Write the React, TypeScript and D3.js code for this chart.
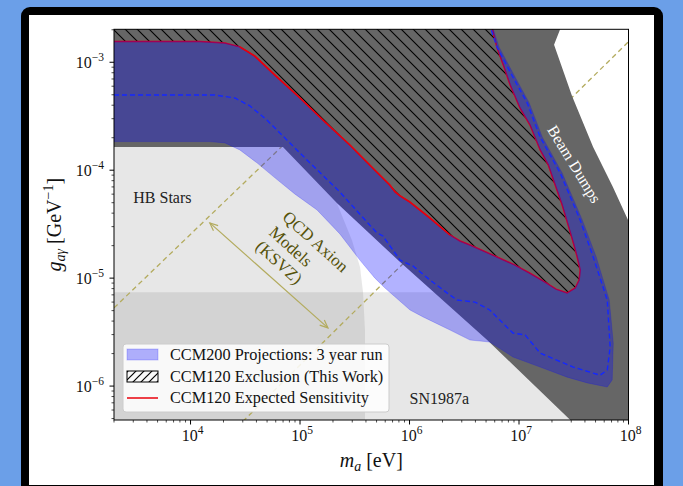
import * as d3 from "d3";
import { useEffect, useRef } from "react";

type Pt = [number, number]; // [m_a in eV, g_a-gamma in GeV^-1]

const xDomain: [number, number] = [2e3, 1e8];
const yDomain: [number, number] = [4.85e-7, 2.02e-3];

// Beam dump exclusion (dark grey)
const beamDumps: Pt[] = [
  [1e3, 1e-2], [2.38e7, 1e-2], [2.38e7, 2.03e-3], [2.09e7, 1.45e-3], [3.05e7, 4.87e-4],
  [4.75e7, 1.64e-4], [7.2e7, 6.98e-5], [9.9e7, 3.45e-5], [2e8, 1.5e-5], [2e8, 1e-7],
  [4.5e7, 3.2e-7], [5.12e6, 2.67e-6], [8.2e5, 1.41e-5], [2.17e5, 4.97e-5],
  [6.98e4, 1.64e-4], [1e3, 1.64e-4],
];

// Horizontal branch stars
const hbStars: Pt[] = [
  [1e3, 1.64e-4], [6.98e4, 1.64e-4], [2.17e5, 4.97e-5], [2.98e5, 2.25e-5],
  [3.53e5, 1.27e-5], [3.76e5, 7.4e-6], [3.92e5, 3.3e-6], [3.92e5, 1e-7], [1e3, 1e-7],
];

// SN1987a
const sn1987a: Pt[] = [[1e3, 7.4e-6], [2e8, 7.4e-6], [2e8, 1e-7], [1e3, 1e-7]];

// CCM120 exclusion boundary / expected sensitivity (red)
const ccm120: Pt[] = [
  [2.0e3, 1.56e-3], [1.22e4, 1.56e-3], [2.06e4, 1.51e-3], [2.82e4, 1.39e-3],
  [3.87e4, 1.14e-3], [5.9e4, 7.6e-4], [1.0e5, 4.67e-4], [1.69e5, 2.8e-4],
  [2.85e5, 1.71e-4], [4.83e5, 1.0e-4], [6.6e5, 7.3e-5], [7.4e5, 6.3e-5],
  [8.2e5, 5.77e-5], [1.01e6, 5.07e-5], [1.54e6, 3.6e-5], [2.34e6, 2.51e-5],
  [2.89e6, 2.21e-5], [3.57e6, 2.03e-5], [6.3e6, 1.57e-5], [9.2e6, 1.32e-5],
  [1.26e7, 1.11e-5], [1.73e7, 9.2e-6], [2.18e7, 7.9e-6], [2.75e7, 7.3e-6],
  [3.26e7, 8.1e-6], [3.54e7, 9.6e-6], [3.62e7, 1.19e-5], [3.4e7, 1.57e-5],
  [3.12e7, 2.16e-5], [2.81e7, 3.1e-5], [2.48e7, 4.76e-5], [2.14e7, 7.3e-5],
  [1.85e7, 1.12e-4], [1.56e7, 1.54e-4], [1.26e7, 2.62e-4], [1.02e7, 3.77e-4],
  [8.3e6, 6.15e-4], [7.2e6, 9.4e-4], [6.3e6, 1.36e-3], [5.6e6, 2.2e-3],
];

// CCM200 projection, outer edge of the band
const ccm200Outer: Pt[] = [
  [2.0e3, 1.84e-4], [1.5e4, 1.84e-4], [2.06e4, 1.79e-4], [2.82e4, 1.54e-4],
  [4.04e4, 1.17e-4], [5.9e4, 8.5e-5], [9.0e4, 6.0e-5], [1.43e5, 4.28e-5],
  [2.31e5, 2.57e-5], [3.52e5, 1.47e-5], [4.83e5, 1.0e-5], [5.97e5, 8.1e-6],
  [1.01e6, 5.07e-6], [1.33e6, 4.37e-6], [2.34e6, 3.31e-6], [3.57e6, 2.67e-6],
  [5.4e6, 2.56e-6], [8.8e6, 1.86e-6], [1.56e7, 1.5e-6], [2.75e7, 1.21e-6],
  [4.2e7, 1.07e-6], [6.4e7, 9.8e-7], [7.1e7, 1.14e-6], [7.26e7, 2.5e-6],
  [6.67e7, 6.27e-6], [5.07e7, 1.57e-5], [3.78e7, 3.46e-5], [2.48e7, 9.4e-5],
  [1.63e7, 2.03e-4], [1.24e7, 4.19e-4], [9.2e6, 7.3e-4], [6.58e6, 1.38e-3],
  [5.67e6, 2.2e-3],
];

// CCM200 dashed curve
const ccm200Dashed: Pt[] = [
  [2.0e3, 4.97e-4], [1.67e4, 4.97e-4], [2.54e4, 4.67e-4], [3.48e4, 3.94e-4],
  [4.98e4, 2.92e-4], [1.0e5, 1.44e-4], [2.31e5, 6.28e-5], [5.04e5, 2.62e-5],
  [5.71e5, 2.46e-5], [8.2e5, 1.47e-5], [1.08e6, 1.29e-5], [1.54e6, 9.6e-6],
  [2.2e6, 7.3e-6], [2.72e6, 6.27e-6], [3.97e6, 6.0e-6], [5.4e6, 5.07e-6],
  [8.8e6, 3.1e-6], [1.14e7, 2.97e-6], [1.56e7, 2.02e-6], [3.13e7, 1.5e-6],
  [5.5e7, 1.26e-6], [6.4e7, 1.41e-6], [6.8e7, 2.3e-6], [6.4e7, 6.27e-6],
  [4.76e7, 1.57e-5], [3.62e7, 3.46e-5], [2.38e7, 9.4e-5], [1.56e7, 2.03e-4],
  [1.19e7, 4.19e-4], [8.8e6, 7.3e-4], [6.3e6, 1.38e-3], [5.4e6, 2.2e-3],
];

// QCD axion (KSVZ) band edges and the arrow between them
const ksvzUpper: Pt[] = [[2e3, 5.3e-6], [7e4, 1.7e-4]];
const ksvzLower: Pt[] = [[3e4, 4.7e-7], [1e8, 1.55e-3]];
const ksvzArrow: Pt[] = [[1.5e4, 3.25e-5], [1.8e5, 3.46e-6]];
const ksvzLabel = ["QCD Axion", "Models", "(KSVZ)"];
const ksvzLabelAt: Pt[] = [[7.3e4, 3.9e-5], [5.5e4, 2.82e-5], [4.15e4, 2.08e-5]];

const regionLabels: { text: string; at: Pt }[] = [
  { text: "HB Stars", at: [3.0e3, 4.97e-5] },
  { text: "SN1987a", at: [1.0e6, 6.8e-7] },
];
const beamLabel = { text: "Beam Dumps", at: [3.2e7, 1.14e-4] as Pt };

const legendLabels = [
  "CCM200 Projections: 3 year run",
  "CCM120 Exclusion (This Work)",
  "CCM120 Expected Sensitivity",
];

export default function App() {
  const ref = useRef<SVGSVGElement | null>(null);

  useEffect(() => {
    const el = ref.current;
    if (!el) return;
    const svg = d3.select(el);
    svg.selectAll("*").remove();

    const W = 683;
    const H = 486;
    const L = 114;
    const R = 628.5;
    const T = 29.3;
    const B = 420;
    const font = "'Liberation Serif', 'Times New Roman', serif";
    const olive = "#b3ab5e";
    const oliveText = "#55520a";

    const x = d3.scaleLog().domain(xDomain).range([L, R]);
    const y = d3.scaleLog().domain(yDomain).range([B, T]);
    const line = d3
      .line<Pt>()
      .x((d) => x(d[0]))
      .y((d) => y(d[1]));
    const poly = (pts: Pt[]) => (line(pts) ?? "") + "Z";

    // page + frame
    svg.append("rect").attr("width", W).attr("height", H).attr("fill", "#6b9fe8");
    svg.append("rect").attr("x", 21).attr("y", 7).attr("width", 642).attr("height", 500)
      .attr("rx", 9).attr("fill", "#000");
    svg.append("rect").attr("x", 29).attr("y", 15).attr("width", 625).attr("height", 470)
      .attr("fill", "#fff");

    const defs = svg.append("defs");
    defs.append("clipPath").attr("id", "plot-clip")
      .append("rect").attr("x", L).attr("y", T).attr("width", R - L).attr("height", B - T);
    const hatch = defs.append("pattern").attr("id", "hatch")
      .attr("patternUnits", "userSpaceOnUse").attr("width", 12).attr("height", 12);
    hatch.append("path").attr("d", "M0,0L12,12M-1,11L1,13M11,-1L13,1")
      .attr("stroke", "#000").attr("stroke-width", 1.1);
    const hatchLeg = defs.append("pattern").attr("id", "hatch-leg")
      .attr("patternUnits", "userSpaceOnUse").attr("width", 8).attr("height", 8);
    hatchLeg.append("path").attr("d", "M0,8L8,0M-1,1L1,-1M7,9L9,7")
      .attr("stroke", "#000").attr("stroke-width", 1.2);
    defs.append("marker").attr("id", "ah")
      .attr("viewBox", "-10 -6 12 12").attr("refX", 0).attr("refY", 0)
      .attr("markerWidth", 12).attr("markerHeight", 12)
      .attr("markerUnits", "userSpaceOnUse").attr("orient", "auto-start-reverse")
      .append("path").attr("d", "M-8,-3.5L0,0L-8,3.5")
      .attr("fill", "none").attr("stroke", olive).attr("stroke-width", 1.2);

    const g = svg.append("g").attr("clip-path", "url(#plot-clip)");

    // astrophysical bounds
    [hbStars, sn1987a].forEach((pts) =>
      g.append("path").attr("d", poly(pts)).attr("fill", "#7f7f7f").attr("fill-opacity", 0.19),
    );

    [ksvzUpper, ksvzLower].forEach((pts) =>
      g.append("path").attr("d", line(pts)).attr("fill", "none").attr("stroke", olive)
        .attr("stroke-width", 1.3).attr("stroke-dasharray", "5,3.5"),
    );

    g.append("path").attr("d", poly(beamDumps)).attr("fill", "#666666");

    // CCM120 exclusion (hatched)
    const hatchPts: Pt[] = [...ccm120, [5.6e6, 1e-2], [1e3, 1e-2], [1e3, 1.56e-3]];
    g.append("path").attr("d", poly(hatchPts)).attr("fill", "url(#hatch)");

    g.append("path").attr("d", line(ccm120)).attr("fill", "none")
      .attr("stroke", "#e8000b").attr("stroke-width", 1.5);

    // CCM200 projection band
    const band: Pt[] = [...ccm200Outer, ...[...ccm120].reverse()];
    g.append("path").attr("d", poly(band)).attr("fill", "#0000ff").attr("fill-opacity", 0.3)
      .attr("stroke", "#0000ff").attr("stroke-opacity", 0.2).attr("stroke-width", 1);

    g.append("path")
      .attr("d", line(ccm120.filter((d) => d[0] > 2.5e4 && d[0] < 2.5e6)))
      .attr("fill", "none").attr("stroke", "#e8000b").attr("stroke-width", 1.5);

    g.append("path").attr("d", line(ccm200Dashed)).attr("fill", "none")
      .attr("stroke", "#1428ff").attr("stroke-width", 1.4).attr("stroke-dasharray", "5,3");

    // annotations
    g.append("path").attr("d", line(ksvzArrow)).attr("fill", "none")
      .attr("stroke", olive).attr("stroke-width", 1.2)
      .attr("marker-start", "url(#ah)").attr("marker-end", "url(#ah)");

    ksvzLabel.forEach((t, i) => {
      const [m, c] = ksvzLabelAt[i];
      g.append("text")
        .attr("transform", `translate(${x(m)},${y(c)}) rotate(42)`)
        .attr("dominant-baseline", "central")
        .attr("font-family", font).attr("font-size", 17).attr("fill", oliveText)
        .text(t);
    });

    regionLabels.forEach((r) =>
      g.append("text").attr("x", x(r.at[0])).attr("y", y(r.at[1]))
        .attr("font-family", font).attr("font-size", 16).attr("fill", "#222")
        .text(r.text),
    );

    g.append("text")
      .attr("transform", `translate(${x(beamLabel.at[0])},${y(beamLabel.at[1])}) rotate(58.5)`)
      .attr("text-anchor", "middle").attr("dominant-baseline", "central")
      .attr("font-family", font).attr("font-size", 16).attr("fill", "#fff")
      .text(beamLabel.text);

    // spines
    svg.append("rect").attr("x", L).attr("y", T).attr("width", R - L).attr("height", B - T)
      .attr("fill", "none").attr("stroke", "#000").attr("stroke-width", 1);

    const isMajor = (v: number) => Math.abs(Math.log10(v) - Math.round(Math.log10(v))) < 1e-9;
    const expText = (v: number) => String(Math.round(Math.log10(v))).replace("-", "\u2212");

    const ax = svg.append("g");
    x.ticks().filter((v) => v >= xDomain[0] && v <= xDomain[1]).forEach((v) => {
      const len = isMajor(v) ? 4.5 : 2.5;
      ax.append("line").attr("x1", x(v)).attr("x2", x(v)).attr("y1", B).attr("y2", B + len)
        .attr("stroke", "#000").attr("stroke-width", isMajor(v) ? 1 : 0.7);
      if (isMajor(v)) {
        const t = ax.append("text").attr("x", x(v) + 2).attr("y", B + 21)
          .attr("text-anchor", "middle").attr("font-family", font).attr("font-size", 16)
          .attr("fill", "#111");
        t.append("tspan").text("10");
        t.append("tspan").attr("dy", -7).attr("font-size", 11.5).text(expText(v));
      }
    });
    y.ticks().filter((v) => v >= yDomain[0] && v <= yDomain[1]).forEach((v) => {
      const len = isMajor(v) ? 4.5 : 2.5;
      ax.append("line").attr("x1", L - len).attr("x2", L).attr("y1", y(v)).attr("y2", y(v))
        .attr("stroke", "#000").attr("stroke-width", isMajor(v) ? 1 : 0.7);
      if (isMajor(v)) {
        const t = ax.append("text").attr("x", L - 10).attr("y", y(v) + 6)
          .attr("text-anchor", "end").attr("font-family", font).attr("font-size", 16)
          .attr("fill", "#111");
        t.append("tspan").text("10");
        t.append("tspan").attr("dy", -7).attr("font-size", 11.5).text(expText(v));
      }
    });

    // axis titles
    const xl = ax.append("text").attr("x", (L + R) / 2).attr("y", 467)
      .attr("text-anchor", "middle").attr("font-family", font).attr("font-size", 20)
      .attr("fill", "#111");
    xl.append("tspan").attr("font-style", "italic").text("m");
    xl.append("tspan").attr("font-style", "italic").attr("font-size", 14).attr("dy", 4).text("a");
    xl.append("tspan").attr("dy", -4).text(" [eV]");

    const yl = ax.append("text")
      .attr("transform", `translate(61,${(T + B) / 2}) rotate(-90)`)
      .attr("text-anchor", "middle").attr("font-family", font).attr("font-size", 20)
      .attr("fill", "#111");
    yl.append("tspan").attr("font-style", "italic").text("g");
    yl.append("tspan").attr("font-style", "italic").attr("font-size", 14).attr("dy", 4).text("aγ");
    yl.append("tspan").attr("dy", -4).text(" [GeV");
    yl.append("tspan").attr("font-size", 14).attr("dy", -8).text("\u22121");
    yl.append("tspan").attr("dy", 8).text("]");

    // legend
    const lg = svg.append("g").attr("transform", `translate(${L + 9},${B - 76})`);
    lg.append("rect").attr("width", 266).attr("height", 68).attr("rx", 3)
      .attr("fill", "#fff").attr("fill-opacity", 0.85).attr("stroke", "#cccccc");
    const rowY = [10.5, 32.5, 54];
    lg.append("rect").attr("x", 4).attr("y", rowY[0] - 5.5).attr("width", 31).attr("height", 11)
      .attr("fill", "#0000ff").attr("fill-opacity", 0.3)
      .attr("stroke", "#0000ff").attr("stroke-opacity", 0.2);
    lg.append("rect").attr("x", 4).attr("y", rowY[1] - 5.5).attr("width", 31).attr("height", 11)
      .attr("fill", "url(#hatch-leg)").attr("stroke", "#000").attr("stroke-width", 1);
    lg.append("line").attr("x1", 4).attr("x2", 35).attr("y1", rowY[2]).attr("y2", rowY[2])
      .attr("stroke", "#e8000b").attr("stroke-width", 1.5);
    legendLabels.forEach((t, i) =>
      lg.append("text").attr("x", 47).attr("y", rowY[i] + 5)
        .attr("font-family", font).attr("font-size", 16.3).attr("fill", "#111").text(t),
    );
  }, []);

  return (
    <svg
      ref={ref}
      width={683}
      height={486}
      style={{ position: "absolute", left: 0, top: 0, display: "block" }}
    />
  );
}
